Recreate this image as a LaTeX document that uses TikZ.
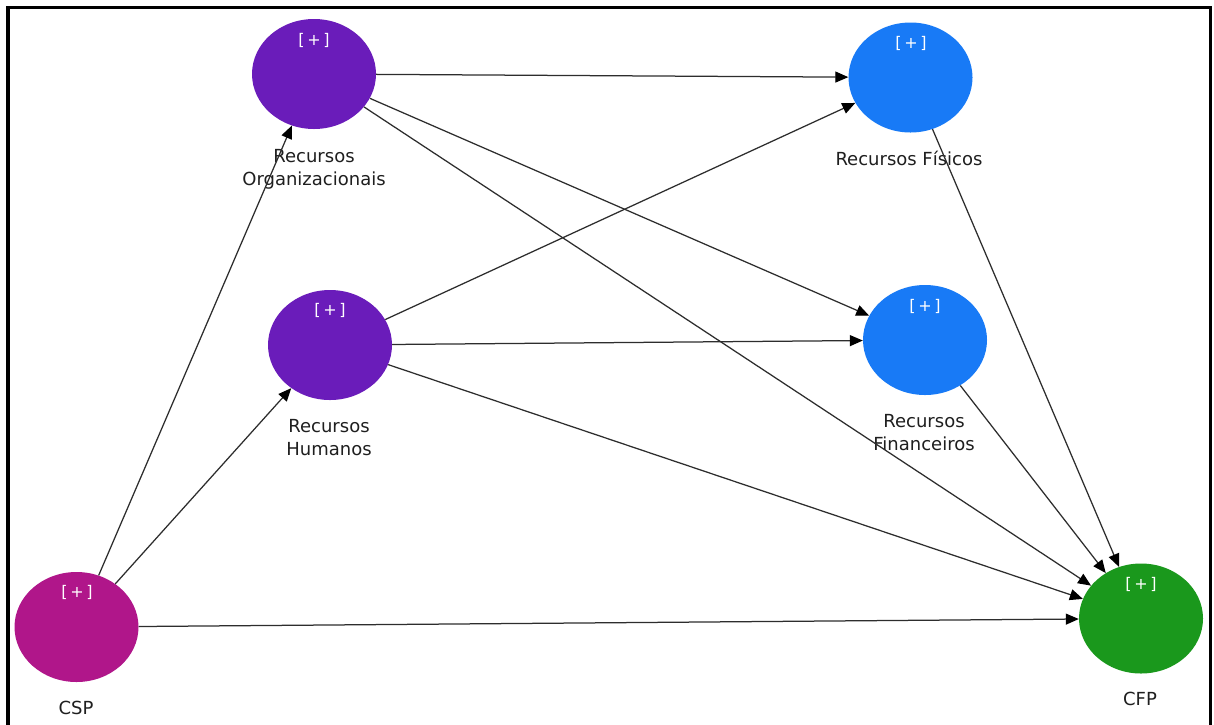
\documentclass[tikz,border=0pt]{standalone}
\usepackage{fontspec}
\setmainfont{DejaVu Sans}
\usetikzlibrary{shapes.geometric,arrows.meta}

\definecolor{orgpurple}{RGB}{106,28,186}
\definecolor{resblue}{RGB}{24,122,246}
\definecolor{cspmagenta}{RGB}{176,22,138}
\definecolor{cfpgreen}{RGB}{26,152,28}
\definecolor{linkgray}{RGB}{45,45,45}

\tikzset{
  construct/.style={ellipse, minimum width=124pt, minimum height=110pt,
    inner sep=0pt, draw=none},
  plusmark/.style={text=white, inner sep=0pt,
    font=\fontsize{16}{19}\selectfont},
  % multi-line captions: the base anchor sits on the last line's baseline
  caption/.style={font=\fontsize{18}{23}\selectfont, align=center,
    inner sep=0pt, anchor=base, text=black!88},
  link/.style={draw=linkgray, line width=1.25pt,
    -{Triangle[length=13pt,width=11pt,color=black]}},
  frameline/.style={line width=3.6pt, draw=black},
}

\begin{document}
\begin{tikzpicture}[x=1pt, y=-1pt]
  \useasboundingbox (0,0) rectangle (1214,724);
  \fill[white] (0,0) rectangle (1214,724);

  % outer frame (open at the bottom edge of the page)
  \draw[frameline] (8,740) -- (8,7.5) -- (1210.5,7.5) -- (1210.5,740);

  % constructs
  \node[construct, fill=orgpurple]  (ro)   at (314,74)    {};
  \node[construct, fill=orgpurple]  (rh)   at (330,345)   {};
  \node[construct, fill=resblue]    (rf)   at (910.5,77.5) {};
  \node[construct, fill=resblue]    (rfin) at (925,340)   {};
  \node[construct, fill=cspmagenta] (csp)  at (76.5,627)  {};
  \node[construct, fill=cfpgreen]   (cfp)  at (1141,618.5) {};

  % [+] markers
  \node[plusmark] (ro-plus)   at (314,40)    {[\,+\,]};
  \node[plusmark] (rh-plus)   at (330,310.5) {[\,+\,]};
  \node[plusmark] (rf-plus)   at (911,43)    {[\,+\,]};
  \node[plusmark] (rfin-plus) at (925,306)   {[\,+\,]};
  \node[plusmark] (csp-plus)  at (77,592.5)  {[\,+\,]};
  \node[plusmark] (cfp-plus)  at (1141,584)  {[\,+\,]};

  % captions
  \node[caption] (ro-lbl)   at (314,185)   {Recursos\\Organizacionais};
  \node[caption] (rh-lbl)   at (329,455)   {Recursos\\Humanos};
  \node[caption] (rf-lbl)   at (909,165.5) {Recursos Físicos};
  \node[caption] (rfin-lbl) at (924,450)   {Recursos\\Financeiros};
  \node[caption] (csp-lbl)  at (76,714)    {CSP};
  \node[caption] (cfp-lbl)  at (1140,705.5) {CFP};

  % paths
  \draw[link] (csp) -- (ro);
  \draw[link] (csp) -- (rh);
  \draw[link] (csp) -- (cfp);
  \draw[link] (ro) -- (rf);
  \draw[link] (ro) -- (rfin);
  \draw[link] (ro) -- (cfp);
  \draw[link] (rh) -- (rf);
  \draw[link] (rh) -- (rfin);
  \draw[link] (rh) -- (cfp);
  \draw[link] (rf) -- (cfp);
  \draw[link] (rfin) -- (cfp);
\end{tikzpicture}
\end{document}
